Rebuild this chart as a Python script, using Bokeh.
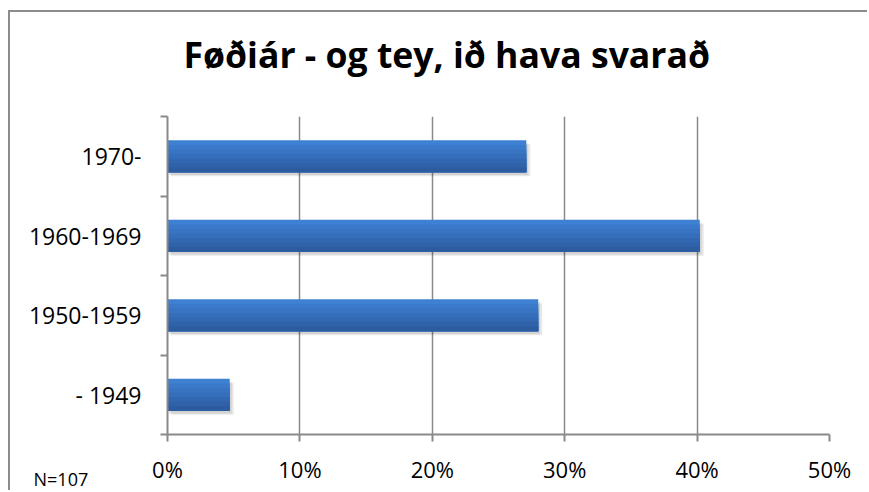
import numpy as np
from bokeh.plotting import figure
from bokeh.models import Range1d, FixedTicker, PrintfTickFormatter, Title
from bokeh.embed import file_html
from bokeh.resources import INLINE

# ---- data ----
categories = ["- 1949", "1950-1959", "1960-1969", "1970-"]
percent = [4.7, 28.0, 40.2, 27.1]
x_ticks = [0, 10, 20, 30, 40, 50]
title_text = "Føðiár - og tey, ið hava svarað"
note_text = "N=107"

FONT = "Open Sans"
GREY = "#8a8a8a"

pos = np.arange(len(categories)) + 0.5
bar_h = 0.4

p = figure(width=859, height=480, x_range=Range1d(0, 50), y_range=Range1d(0, 4),
           output_backend="svg", toolbar_location=None,
           min_border_left=157, min_border_right=40, min_border_top=104, min_border_bottom=58)
p.title_location = None
p.styles = {"border-top": "2px solid #8c8c8c", "border-left": "2px solid #8c8c8c",
            "margin-top": "10px", "margin-left": "8px"}
p.outline_line_color = None
p.background_fill_color = "white"
p.border_fill_color = "white"

# spacer between frame and heading, then the heading
p.add_layout(Title(text=" ", text_font_size="1px", standoff=36), "above")
p.add_layout(Title(text=title_text, text_font=FONT, text_font_style="bold", text_font_size="35.6px",
                   align="left", offset=16, standoff=0, text_color="#000000"), "above")

# shadow
p.hbar(y=pos - 0.05, left=0.25, right=np.array(percent) + 0.3, height=bar_h, color="#000000", alpha=0.09, line_color=None)
p.hbar(y=pos - 0.035, left=0.1, right=np.array(percent) + 0.15, height=bar_h, color="#000000", alpha=0.09, line_color=None)

# gradient bars: nested strips from the bottom up, light to dark
strip_colors = ["#3e80d1", "#3b7aca", "#3874c2", "#356eba", "#3268b1", "#2f62a8", "#2c5c9f"]
n = len(strip_colors)
bottom = pos - bar_h / 2
for k, c in enumerate(strip_colors):
    top_k = pos + bar_h / 2 - k * bar_h / n
    p.hbar(y=(top_k + bottom) / 2, left=0, right=percent, height=top_k - bottom, color=c, line_color=None)

# x axis
p.xaxis.ticker = FixedTicker(ticks=x_ticks)
p.xaxis.formatter = PrintfTickFormatter(format="%d%%")
p.xaxis.axis_line_color = GREY
p.xaxis.axis_line_width = 2
p.xaxis.major_tick_line_color = GREY
p.xaxis.major_tick_line_width = 2
p.xaxis.major_tick_out = 7
p.xaxis.major_tick_in = 0
p.xaxis.minor_tick_line_color = None
p.xaxis.major_label_text_font = FONT
p.xaxis.major_label_text_font_size = "22px"
p.xaxis.major_label_text_color = "#000000"
p.xaxis.major_label_standoff = 12

# y axis
p.yaxis.ticker = FixedTicker(ticks=list(pos), minor_ticks=list(range(len(categories) + 1)))
p.yaxis.major_label_overrides = {float(v): c for v, c in zip(pos, categories)}
p.yaxis.axis_line_color = GREY
p.yaxis.axis_line_width = 2
p.yaxis.major_tick_line_color = None
p.yaxis.major_tick_out = 0
p.yaxis.major_tick_in = 0
p.yaxis.minor_tick_line_color = GREY
p.yaxis.minor_tick_line_width = 2
p.yaxis.minor_tick_out = 7
p.yaxis.minor_tick_in = 0
p.yaxis.major_label_text_font = FONT
p.yaxis.major_label_text_font_size = "23px"
p.yaxis.major_label_text_color = "#000000"
p.yaxis.major_label_standoff = 19

# grid
p.xgrid.ticker = FixedTicker(ticks=x_ticks)
p.xgrid.grid_line_color = GREY
p.xgrid.grid_line_width = 1.5
p.ygrid.grid_line_color = None

# note, below the x axis at the far left
p.add_layout(Title(text=note_text, text_font=FONT, text_font_size="18px", text_font_style="normal",
                   align="left", offset=-134, standoff=-40, vertical_align="top",
                   text_color="#000000"), "below")

open("out.html", "w").write(file_html(p, INLINE))
